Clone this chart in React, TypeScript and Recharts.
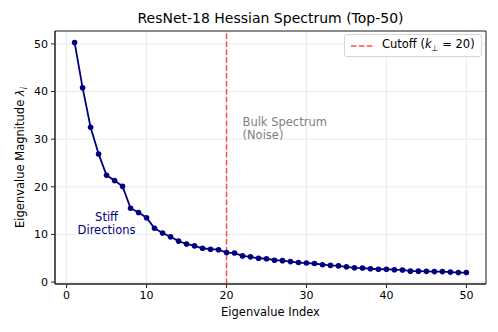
import React from 'react';
import {
  LineChart,
  Line,
  XAxis,
  YAxis,
  CartesianGrid,
  ReferenceLine,
  ReferenceArea,
  ReferenceDot,
  Label,
} from 'recharts';

// top-50 hessian eigenvalues
const eigenvalues = [
  50.3, 40.8, 32.5, 26.9, 22.4, 21.3, 20.1, 15.5, 14.6, 13.5,
  11.3, 10.3, 9.5, 8.6, 8.0, 7.6, 7.1, 6.9, 6.8, 6.2,
  6.1, 5.5, 5.3, 5.0, 4.9, 4.6, 4.5, 4.3, 4.1, 4.0,
  3.9, 3.65, 3.5, 3.4, 3.2, 3.0, 2.95, 2.8, 2.7, 2.7,
  2.6, 2.55, 2.3, 2.3, 2.25, 2.2, 2.2, 2.1, 2.0, 2.0,
];
const xTicks = [0, 10, 20, 30, 40, 50];
const yTicks = [0, 10, 20, 30, 40, 50];
const cutoff = 20;

const data = eigenvalues.map((v, i) => ({ index: i + 1, value: v }));

const FONT = '"DejaVu Sans", sans-serif';
const NAVY = '#000080';
const CUT_RED = '#ff4d4d';
const X_DOMAIN: [number, number] = [-1.45, 52.45];
const Y_DOMAIN: [number, number] = [-0.4, 52.7];

const YLabel = ({ viewBox }: any) => {
  const cy = viewBox.y + viewBox.height / 2;
  return (
    <text
      x={0}
      y={0}
      transform={`translate(24, ${cy}) rotate(-90)`}
      textAnchor="middle"
      fontSize={11.5}
      fontFamily={FONT}
      fill="#000"
    >
      Eigenvalue Magnitude{' '}
      <tspan fontStyle="italic">λ</tspan>
      <tspan fontStyle="italic" fontSize={8} dy={3}>i</tspan>
    </text>
  );
};

const StiffNote = ({ viewBox }: any) => (
  <text x={viewBox.x} y={viewBox.y} textAnchor="middle" fontSize={11.5} fontFamily={FONT} fill={NAVY}>
    <tspan x={viewBox.x} dy={-2}>Stiff</tspan>
    <tspan x={viewBox.x} dy={13}>Directions</tspan>
  </text>
);

const BulkNote = ({ viewBox }: any) => (
  <text x={viewBox.x} y={viewBox.y} fontSize={11.5} fontFamily={FONT} fill="#808080">
    <tspan x={viewBox.x} dy={-2}>Bulk Spectrum</tspan>
    <tspan x={viewBox.x} dy={13}>(Noise)</tspan>
  </text>
);

const CutoffLegend = () => (
  <div
    style={{
      position: 'absolute',
      top: 34,
      left: 344,
      width: 138,
      height: 23,
      boxSizing: 'border-box',
      border: '1px solid #d6d6d6',
      borderRadius: 3,
      background: 'rgba(255,255,255,0.8)',
      display: 'flex',
      alignItems: 'center',
      fontFamily: FONT,
      fontSize: 11.5,
      color: '#000',
      whiteSpace: 'nowrap',
    }}
  >
    <svg width={33} height={10} style={{ marginLeft: 4, flex: 'none' }}>
      <line x1={2} y1={5} x2={26} y2={5} stroke={CUT_RED} strokeWidth={1.5} strokeDasharray="5.5 2.4" />
    </svg>
    <span>
      Cutoff (<i>k</i>
      <sub style={{ fontSize: 8 }}>⊥</sub> = 20)
    </span>
  </div>
);

export default function App() {
  return (
    <div style={{ position: 'fixed', top: 0, left: 0, width: 498, height: 332, background: '#fff' }}>
      <div
        style={{
          position: 'absolute',
          top: 10,
          left: 55,
          width: 431,
          textAlign: 'center',
          fontFamily: FONT,
          fontSize: 14,
          color: '#000',
        }}
      >
        ResNet-18 Hessian Spectrum (Top-50)
      </div>
      <LineChart width={498} height={332} data={data} margin={{ top: 31, right: 12, bottom: 0, left: 0 }}>
        <CartesianGrid stroke="#e6e6e6" strokeWidth={0.8} />
        <XAxis
          dataKey="index"
          type="number"
          domain={X_DOMAIN}
          ticks={xTicks}
          allowDataOverflow
          height={48}
          tickSize={4}
          tickMargin={3}
          stroke="#222"
          tick={{ fill: '#000', fontSize: 11, fontFamily: FONT }}
        >
          <Label value="Eigenvalue Index" position="insideBottom" offset={16} fontSize={11.5} fontFamily={FONT} fill="#000" />
        </XAxis>
        <YAxis
          type="number"
          domain={Y_DOMAIN}
          ticks={yTicks}
          allowDataOverflow
          width={55}
          tickSize={4}
          tickMargin={3}
          stroke="#222"
          tick={{ fill: '#000', fontSize: 11, fontFamily: FONT }}
        >
          <Label content={<YLabel />} />
        </YAxis>
        <ReferenceArea
          x1={X_DOMAIN[0]}
          x2={X_DOMAIN[1]}
          y1={Y_DOMAIN[0]}
          y2={Y_DOMAIN[1]}
          fill="none"
          stroke="#222"
          strokeWidth={1}
          ifOverflow="visible"
        />
        <ReferenceLine x={cutoff} stroke={CUT_RED} strokeWidth={1.5} strokeDasharray="5.5 2.4" />
        <ReferenceDot x={5} y={12.4} r={0} fill="none" stroke="none">
          <Label content={<StiffNote />} />
        </ReferenceDot>
        <ReferenceDot x={22} y={32.3} r={0} fill="none" stroke="none">
          <Label content={<BulkNote />} />
        </ReferenceDot>
        <Line
          type="linear"
          dataKey="value"
          stroke={NAVY}
          strokeWidth={1.8}
          dot={{ r: 2.8, fill: NAVY, stroke: NAVY, strokeWidth: 0 }}
          activeDot={false}
          legendType="none"
          isAnimationActive={false}
        />
      </LineChart>
      <CutoffLegend />
    </div>
  );
}
